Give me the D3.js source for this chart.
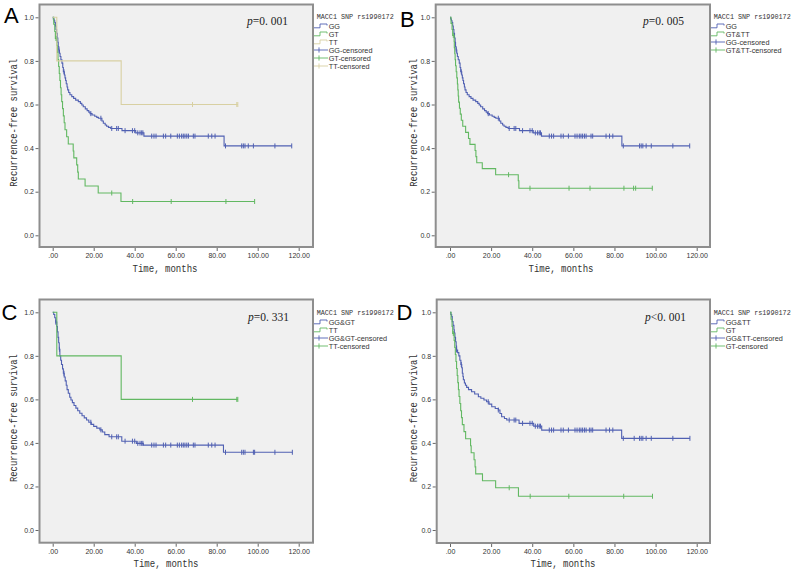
<!DOCTYPE html>
<html><head><meta charset="utf-8">
<script src="https://cdn.jsdelivr.net/npm/d3@7"></script>
<style>body{margin:0;background:#fff}svg{display:block}</style>
</head><body>
<svg id="c" width="793" height="571"></svg>
<script>
// ---------------- DATA ----------------
const ggTimes = [0.3,0.7,1.0,1.3,1.6,1.9,2.2,2.5,2.7,3.0,3.3,3.6,4.0,4.5,4.9,5.2,5.7,6.0,6.3,6.6,7.0,7.3,7.8,8.4,9.3,10.2,11.2,12.5,13.5,14.2,14.9,15.9,16.8,17.6,18.2,19.2,20.5,21.5,22.3,24.0,24.7,25.6,26.3,27.2,28.3,33.8,40.5,44.5,83.6];
const ggSurv  = [0.992,0.984,0.976,0.96,0.944,0.927,0.905,0.885,0.865,0.85,0.835,0.82,0.805,0.79,0.77,0.75,0.735,0.722,0.71,0.695,0.68,0.667,0.655,0.645,0.636,0.628,0.62,0.613,0.605,0.598,0.59,0.58,0.572,0.565,0.558,0.552,0.546,0.541,0.537,0.524,0.514,0.506,0.5,0.495,0.49,0.48,0.47,0.455,0.41];
const ggCens  = [3.0,5.5,18.6,23.5,28.8,31.2,32,35.3,38.9,40,41.5,42.6,43.4,44,48.3,49.4,50.4,54,55.1,57.6,60.8,61.8,62.9,63.7,64.5,65.4,66.2,68.6,69.4,75.9,77.6,79.2,84.3,92.2,93,93.8,95.4,97.9,108.4,116.6];

const gtTimes = [0.5,1.0,1.3,2.0,2.3,2.6,2.9,3.2,3.5,3.8,4.1,4.4,4.8,5.2,5.6,6.0,6.8,7.6,10.0,10.3,11.7,12.2,12.5,15.8,22.2,33.3];
const gtSurv  = [0.968,0.935,0.903,0.871,0.839,0.806,0.774,0.742,0.71,0.677,0.645,0.613,0.581,0.548,0.516,0.484,0.452,0.419,0.387,0.355,0.323,0.29,0.258,0.226,0.194,0.155];
const gtCens  = [1.6,28.8,39.0,57.8,84.5,98.5];

const ttTimes = [2.0,33.4];
const ttSurv  = [0.8,0.6];
const ttCens  = [68.2,89.8,90.3];

const gtttTimes = [0.5,1.0,1.3,2.0,2.1,2.3,2.5,2.7,3.0,3.3,3.6,3.8,4.0,4.2,4.6,5.0,5.5,6.2,7.6,9.0,9.7,12.2,12.6,13.0,15.7,22.2,33.2,33.5];
const gtttSurv  = [0.972,0.944,0.917,0.889,0.861,0.833,0.806,0.778,0.75,0.722,0.694,0.667,0.639,0.611,0.583,0.556,0.528,0.5,0.472,0.444,0.417,0.389,0.361,0.333,0.306,0.278,0.25,0.216];
const gtttCens  = [1.6,28.5,38.9,57.9,68.1,84.6,89.3,90.3,98.4];

const gggtTimes = [0.5,1.0,1.5,2.0,2.3,2.6,2.9,3.2,3.5,3.9,4.3,4.8,5.2,5.6,6.1,6.6,7.0,7.6,8.3,8.9,9.6,10.4,11.3,12.2,13.2,14.3,15.4,16.5,17.6,18.8,20.0,21.5,23.0,24.2,25.4,27.5,33.7,40.8,44.2,83.3];
const gggtSurv  = [0.99,0.975,0.955,0.935,0.91,0.885,0.86,0.83,0.8,0.78,0.76,0.74,0.72,0.703,0.685,0.665,0.645,0.628,0.61,0.597,0.585,0.572,0.56,0.548,0.536,0.525,0.515,0.505,0.495,0.485,0.476,0.468,0.46,0.45,0.438,0.428,0.408,0.398,0.39,0.357];
const gggtCens  = [1.5,3.3,5.5,18.6,23.5,28.8,31.2,32,35.3,38.9,40,41.5,42.6,43.4,44,48.3,49.4,50.4,54,55.1,57.6,60.8,61.8,62.9,63.7,64.5,65.4,66.2,68.6,69.4,75.9,77.6,79.2,84.3,92.2,93,93.8,97.9,98.5,108.4,116.9];

const ggttTimes = [0.4,0.8,1.1,1.5,1.9,2.1,2.4,2.7,3.0,3.2,3.7,4.3,4.8,5.3,5.7,6.0,6.3,6.5,7.0,7.5,8.1,9.0,10.5,12.0,13.8,15.0,16.5,17.8,19.0,20.3,22.0,23.5,24.3,25.1,26.5,27.6,33.6,40.7,44.6,83.5];
const ggttSurv  = [0.99,0.98,0.957,0.94,0.92,0.905,0.885,0.865,0.845,0.827,0.815,0.8,0.78,0.76,0.745,0.72,0.705,0.69,0.675,0.665,0.655,0.645,0.635,0.625,0.612,0.605,0.597,0.589,0.578,0.566,0.558,0.551,0.535,0.52,0.512,0.505,0.49,0.477,0.459,0.421];
const ggttCens  = [3.2,5.5,18.6,23.5,28.8,31.2,32,35.3,38.9,40,41.5,42.6,43.4,44,48.3,49.4,50.4,54,55.1,57.6,60.8,61.8,62.9,63.7,64.5,65.4,66.2,67.8,68.6,69.4,75.9,77.6,79.2,84.3,89.6,92.2,93,93.8,95.4,97.9,108.4,116.7];

const xTickValues = [0,20,40,60,80,100,120];
const xTickLabels = [".00","20.00","40.00","60.00","80.00","100.00","120.00"];
const yTickValues = [0,0.2,0.4,0.6,0.8,1.0];
const yTickLabels = ["0.0","0.2","0.4","0.6","0.8","1.0"];
const panelLetters = ["A","B","C","D"];
const pTexts = ["=0. 001","=0. 005","=0. 331","<0. 001"];
const legendTitle = "MACC1 SNP rs1990172";
const xTitle = "Time, months";
const yTitle = "Recurrence-free survival";

// ---------------- STYLE / LAYOUT ----------------
const BLUE = "#5060b2", GREEN = "#62b862", TAN = "#d8d0a2";
const panels = [
  {letter:0, frame:[39.5,313,4.5,247], xr:[52.7,298.7], yr:[235.3,17.3], lx:314, ly:16.7, px:247, py:25, lpos:[4,22.7], ytx:16.5, xtx:165, xty:271.5,
   series:[{n:"GG",t:ggTimes,s:ggSurv,c:ggCens,col:BLUE},{n:"GT",t:gtTimes,s:gtSurv,c:gtCens,col:GREEN},{n:"TT",t:ttTimes,s:ttSurv,c:ttCens,col:TAN}]},
  {letter:1, frame:[435.7,710,4.5,247], xr:[450,696.7], yr:[235.3,17.3], lx:711, ly:16.7, px:643, py:25, lpos:[400,26.7], ytx:416.5, xtx:561, xty:271.5,
   series:[{n:"GG",t:ggTimes,s:ggSurv,c:ggCens,col:BLUE},{n:"GT&TT",t:gtttTimes,s:gtttSurv,c:gtttCens,col:GREEN}]},
  {letter:2, frame:[39.5,313,299.5,542.7], xr:[52.7,298.7], yr:[530,312.3], lx:314, ly:312.7, px:248, py:321, lpos:[1.5,320], ytx:16.5, xtx:166, xty:567,
   series:[{n:"GG&GT",t:gggtTimes,s:gggtSurv,c:gggtCens,col:BLUE},{n:"TT",t:ttTimes,s:ttSurv,c:ttCens,col:GREEN}]},
  {letter:3, frame:[436.7,710,299.5,543], xr:[450,696.7], yr:[530,312.3], lx:711, ly:312.7, px:645, py:321, lpos:[396.5,320], ytx:416.5, xtx:563, xty:567,
   series:[{n:"GG&TT",t:ggttTimes,s:ggttSurv,c:ggttCens,col:BLUE},{n:"GT",t:gtTimes,s:gtSurv,c:gtCens,col:GREEN}]}
];

const svg = d3.select("#c");
svg.append("rect").attr("width",793).attr("height",571).attr("fill","#fff");

function survAt(t, s, time){
  let v = 1;
  for(let i=0;i<t.length;i++){ if(t[i] <= time) v = s[i]; }
  return v;
}

panels.forEach(P=>{
  const g = svg.append("g");
  const [fx0,fx1,fy0,fy1] = P.frame;
  const x = d3.scaleLinear().domain([0,120]).range(P.xr);
  const y = d3.scaleLinear().domain([0,1]).range(P.yr);

  g.append("rect").attr("x",fx0).attr("y",fy0).attr("width",fx1-fx0).attr("height",fy1-fy0)
    .attr("fill","#f0f0f0").attr("stroke","#8e8e8e").attr("stroke-width",2);

  // axes
  const ya = g.append("g").attr("transform",`translate(${fx0-1},0)`)
    .call(d3.axisLeft(y).tickValues(yTickValues).tickFormat((d,i)=>yTickLabels[i]).tickSize(3).tickPadding(1.5));
  const xa = g.append("g").attr("transform",`translate(0,${fy1+1})`)
    .call(d3.axisBottom(x).tickValues(xTickValues).tickFormat((d,i)=>xTickLabels[i]).tickSize(3).tickPadding(2.5));
  [ya,xa].forEach(a=>{
    a.select(".domain").remove();
    a.selectAll("line").attr("stroke","#555").attr("stroke-width",0.9);
    a.selectAll("text").attr("font-family","Liberation Sans, Arial, sans-serif").attr("font-size",7).attr("fill","#333");
  });

  // curves
  const line = d3.line().x(d=>x(d[0])).y(d=>y(d[1])).curve(d3.curveStepAfter);
  P.series.forEach(S=>{
    const pts = [[0,1]];
    S.t.forEach((tt,i)=>pts.push([tt,S.s[i]]));
    const end = Math.max(S.t[S.t.length-1], S.c.length? S.c[S.c.length-1] : 0);
    pts.push([end, S.s[S.s.length-1]]);
    g.append("path").attr("d",line(pts)).attr("fill","none").attr("stroke",S.col).attr("stroke-width",1.1);
  });
  P.series.forEach(S=>{
    g.selectAll(null).data(S.c).enter().append("line")
      .attr("x1",d=>x(d)).attr("x2",d=>x(d))
      .attr("y1",d=>y(survAt(S.t,S.s,d))-2.5).attr("y2",d=>y(survAt(S.t,S.s,d))+2.5)
      .attr("stroke",S.col).attr("stroke-width",1);
  });

  // panel letter
  g.append("text").attr("x",P.lpos[0]).attr("y",P.lpos[1]).text(panelLetters[P.letter])
    .attr("font-family","Liberation Sans, Arial, sans-serif").attr("font-size",22).attr("fill","#000");

  // p value
  const pt = g.append("text").attr("x",P.px).attr("y",P.py)
    .attr("font-family","Liberation Serif, Times New Roman, serif").attr("font-size",11.5).attr("fill","#222");
  pt.append("tspan").attr("font-style","italic").text("p");
  pt.append("tspan").text(pTexts[P.letter]);

  // axis titles
  g.append("text").attr("x",P.xtx).attr("y",P.xty).attr("text-anchor","middle").text(xTitle)
    .attr("font-family","Liberation Mono, monospace").attr("font-size",10.5).attr("fill","#333")
    .attr("textLength",65).attr("lengthAdjust","spacingAndGlyphs");
  const cy = (fy0+fy1)/2 - 3;
  g.append("text").attr("transform",`translate(${P.ytx},${cy}) rotate(-90)`).attr("text-anchor","middle").text(yTitle)
    .attr("font-family","Liberation Mono, monospace").attr("font-size",10.5).attr("fill","#333")
    .attr("textLength",128).attr("lengthAdjust","spacingAndGlyphs");

  // legend
  g.append("text").attr("x",P.lx+2.7).attr("y",P.ly+2.3).text(legendTitle)
    .attr("font-family","Liberation Mono, monospace").attr("font-size",6.6).attr("fill","#333")
    .attr("textLength",77).attr("lengthAdjust","spacingAndGlyphs");
  const items = [];
  P.series.forEach(S=>items.push({label:S.n, col:S.col, cens:false}));
  P.series.forEach(S=>items.push({label:S.n+"-censored", col:S.col, cens:true}));
  items.forEach((it,i)=>{
    const yy = P.ly + 9.3 + i*8;
    const x0 = P.lx;
    if(!it.cens){
      g.append("path").attr("d",`M${x0},${yy+1.8}H${x0+6}V${yy-2}H${x0+13}V${yy-0.5}`)
        .attr("fill","none").attr("stroke",it.col).attr("stroke-width",0.9);
    } else {
      g.append("path").attr("d",`M${x0},${yy}H${x0+14}M${x0+5},${yy-2.6}V${yy+2.6}`)
        .attr("fill","none").attr("stroke",it.col).attr("stroke-width",0.9);
    }
    g.append("text").attr("x",x0+14.7).attr("y",yy+2.6).text(it.label)
      .attr("font-family","Liberation Sans, Arial, sans-serif").attr("font-size",7.3).attr("fill","#333");
  });
});
</script>
</body></html>
